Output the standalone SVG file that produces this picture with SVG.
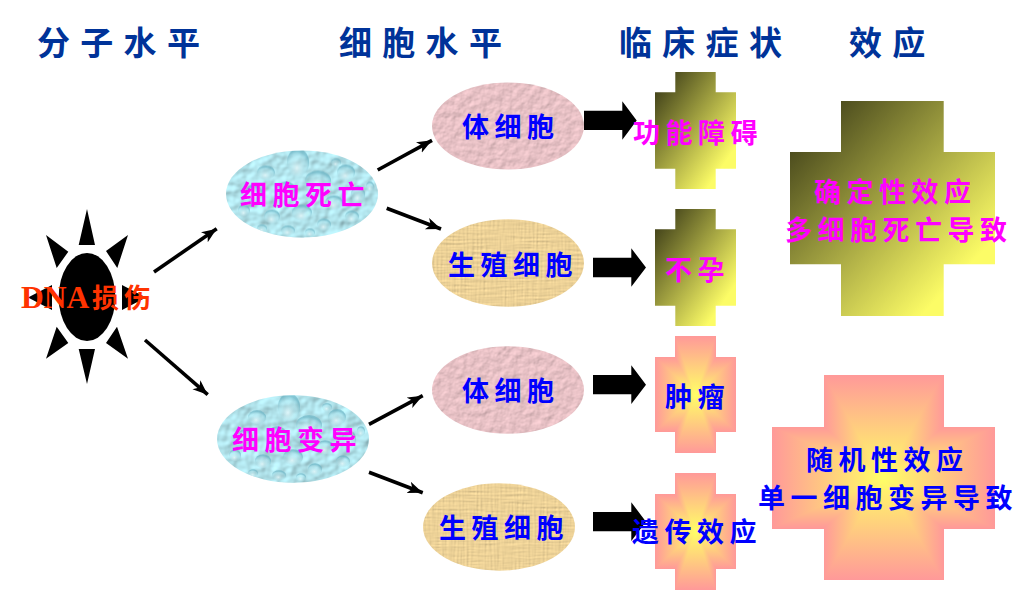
<svg xmlns="http://www.w3.org/2000/svg" xmlns:xlink="http://www.w3.org/1999/xlink" width="1033" height="590" viewBox="0 0 1033 590">
<style>
text{font-family:"Noto Sans CJK SC","Noto Sans",sans-serif;font-weight:700}
.title{font-size:33px;letter-spacing:10.3px;fill:#003399}
.lb{font-size:27px;letter-spacing:5.5px;fill:#0000ff}
.lm{font-size:27px;letter-spacing:5.5px;fill:#ff00ff}
.thin{fill:none;stroke:#000;stroke-width:3.6;marker-end:url(#head)}
.sun{fill:#000}
.block{fill:#000}
.rose polygon{shape-rendering:crispEdges}
.u{fill:url(#gu)}.d{fill:url(#gd)}.l{fill:url(#gl)}.r{fill:url(#gr)}
.drops{fill:url(#droplets)}
</style>
<defs>
<marker id="head" markerUnits="userSpaceOnUse" markerWidth="18" markerHeight="14" refX="15" refY="6" orient="auto"><path d="M0 0L15 6L0 12L4 6Z" fill="#000"/></marker>
<linearGradient id="olive" x1="0" y1="0" x2="1" y2="1"><stop offset="0.06" stop-color="#3e3e18"/><stop offset="0.82" stop-color="#fcfc66"/></linearGradient>
<linearGradient id="gu" x1="0" y1="1" x2="0" y2="0"><stop offset="0" stop-color="#ffff66"/><stop offset="1" stop-color="#ff9999"/></linearGradient>
<linearGradient id="gd" x1="0" y1="0" x2="0" y2="1"><stop offset="0" stop-color="#ffff66"/><stop offset="1" stop-color="#ff9999"/></linearGradient>
<linearGradient id="gl" x1="1" y1="0" x2="0" y2="0"><stop offset="0" stop-color="#ffff66"/><stop offset="1" stop-color="#ff9999"/></linearGradient>
<linearGradient id="gr" x1="0" y1="0" x2="1" y2="0"><stop offset="0" stop-color="#ffff66"/><stop offset="1" stop-color="#ff9999"/></linearGradient>
<radialGradient id="drop" cx="0.45" cy="0.7" r="0.6"><stop offset="0" stop-color="#e6f8fa" stop-opacity="0.85"/><stop offset="0.7" stop-color="#a4dae4" stop-opacity="0.3"/><stop offset="1" stop-color="#6fb6c6" stop-opacity="0.75"/></radialGradient>
<pattern id="droplets" patternUnits="objectBoundingBox" width="1" height="1" patternContentUnits="userSpaceOnUse">
<g fill="url(#drop)">
<ellipse cx="72" cy="12" rx="11" ry="14"/><ellipse cx="92" cy="30" rx="13" ry="10"/><ellipse cx="120" cy="22" rx="9" ry="8"/>
<ellipse cx="40" cy="22" rx="9" ry="7"/><ellipse cx="60" cy="40" rx="10" ry="9"/><ellipse cx="28" cy="42" rx="8" ry="8"/>
<ellipse cx="132" cy="44" rx="7" ry="9"/><ellipse cx="108" cy="52" rx="9" ry="7"/><ellipse cx="18" cy="60" rx="6" ry="6"/>
<ellipse cx="46" cy="66" rx="8" ry="7"/><ellipse cx="76" cy="62" rx="10" ry="8"/><ellipse cx="98" cy="74" rx="7" ry="6"/>
<ellipse cx="126" cy="66" rx="7" ry="6"/><ellipse cx="62" cy="80" rx="7" ry="5"/><ellipse cx="84" cy="82" rx="5" ry="4"/>
<ellipse cx="36" cy="78" rx="5" ry="4"/><ellipse cx="110" cy="12" rx="5" ry="4"/><ellipse cx="144" cy="36" rx="4" ry="5"/>
</g>
</pattern>
<filter id="water" x="0" y="0" width="1" height="1" color-interpolation-filters="sRGB">
<feTurbulence type="fractalNoise" baseFrequency="0.09" numOctaves="2" seed="8" result="n"/>
<feDiffuseLighting in="n" surfaceScale="1.4" diffuseConstant="1.16" lighting-color="#b0e2ea" result="lit"><feDistantLight azimuth="235" elevation="60"/></feDiffuseLighting>
<feComposite in="lit" in2="SourceAlpha" operator="in"/>
</filter>
<filter id="rosetex" x="0" y="0" width="1" height="1" color-interpolation-filters="sRGB">
<feTurbulence type="fractalNoise" baseFrequency="0.13" numOctaves="4" seed="3" result="n"/>
<feDiffuseLighting in="n" surfaceScale="0.7" diffuseConstant="1.14" lighting-color="#e6c0c4" result="lit"><feDistantLight azimuth="235" elevation="62"/></feDiffuseLighting>
<feComposite in="lit" in2="SourceAlpha" operator="in"/>
</filter>
<filter id="papyrus" x="0" y="0" width="1" height="1" color-interpolation-filters="sRGB">
<feTurbulence type="fractalNoise" baseFrequency="0.03 0.5" numOctaves="3" seed="5" result="h"/>
<feTurbulence type="fractalNoise" baseFrequency="0.5 0.03" numOctaves="3" seed="9" result="v"/>
<feBlend in="h" in2="v" mode="multiply" result="n"/>
<feDiffuseLighting in="n" surfaceScale="0.6" diffuseConstant="1.14" lighting-color="#ebd096" result="lit"><feDistantLight azimuth="235" elevation="62"/></feDiffuseLighting>
<feComposite in="lit" in2="SourceAlpha" operator="in"/>
</filter>
<g id="rose-small" class="rose">
<polygon class="u" points="0,0 -20.5,-58.5 20.5,-58.5"/><polygon class="u" points="0,0 20.5,-37.5 40.5,-37.5"/><polygon class="u" points="0,0 -40.5,-37.5 -20.5,-37.5"/>
<polygon class="r" points="0,0 20.5,-58.5 20.5,-37.5"/><polygon class="r" points="0,0 40.5,-37.5 40.5,37.5"/><polygon class="r" points="0,0 20.5,37.5 20.5,58.5"/>
<polygon class="d" points="0,0 20.5,58.5 -20.5,58.5"/><polygon class="d" points="0,0 40.5,37.5 20.5,37.5"/><polygon class="d" points="0,0 -20.5,37.5 -40.5,37.5"/>
<polygon class="l" points="0,0 -20.5,58.5 -20.5,37.5"/><polygon class="l" points="0,0 -40.5,37.5 -40.5,-37.5"/><polygon class="l" points="0,0 -20.5,-37.5 -20.5,-58.5"/>
</g>
</defs>

<g id="titles">
<text class="title" x="37" y="55">分子水平</text>
<text class="title" x="339" y="55">细胞水平</text>
<text class="title" x="619" y="55">临床症状</text>
<text class="title" x="849" y="55">效应</text>
</g>

<g id="node-dna">
<ellipse class="sun" cx="87" cy="297" rx="28.3" ry="44"/>
<path class="sun" d="M87 209L95 245H78.7ZM87 384L95 349H78.7ZM46 235L68.3 251.7L56.7 268ZM128 235L106 251L117.3 268ZM46 358.7L56.7 326.7L68.3 343ZM128 358.7L117 326.7L106 343ZM28 297.5L52 285V310ZM146 297.5L122 285V310Z"/>
<text x="21" y="308" style="font-family:'Liberation Serif',serif;font-size:31.5px;fill:#ff3300">DNA</text>
<text x="92" y="308" style="font-size:27px;letter-spacing:5px;fill:#ff3300">损伤</text>
</g>

<g id="connectors">
<path class="thin" d="M154 272L216.7 228.7"/>
<path class="thin" d="M145 340L207.7 394.7"/>
<path class="thin" d="M377.7 170L432 140.3"/>
<path class="thin" d="M386.7 208.3L441 229"/>
<path class="thin" d="M369 424.3L422.7 395.7"/>
<path class="thin" d="M369 472.3L422.7 492.7"/>
<path class="block" d="M584 110.7H622.3V101.3L636.7 120.5L622.3 139.7V130H584Z"/>
<path class="block" d="M593 257.7H631.3V248.3L646 267.5L631.3 286.7V277.3H593Z"/>
<path class="block" d="M593 375H631.3V365.3L646 384.7L631.3 404V394.3H593Z"/>
<path class="block" d="M593 512H631.3V502.3L646 521.7L631.3 541V531.3H593Z"/>
</g>

<g id="node-death">
<ellipse cx="302" cy="194" rx="76" ry="43.5" fill="#aee0e9" filter="url(#water)"/>
<ellipse class="drops" cx="302" cy="194" rx="76" ry="43.5"/>
<text class="lm" x="240" y="205">细胞死亡</text>
</g>
<g id="node-mutation">
<ellipse cx="293" cy="439" rx="76" ry="43.8" fill="#aee0e9" filter="url(#water)"/>
<ellipse class="drops" cx="293" cy="439" rx="76" ry="43.8"/>
<text class="lm" x="232" y="450">细胞变异</text>
</g>
<g id="node-somatic-1">
<ellipse cx="508" cy="126" rx="76" ry="43.5" fill="#e6c0c4" filter="url(#rosetex)"/>
<text class="lb" x="462" y="137">体细胞</text>
</g>
<g id="node-germ-1">
<ellipse cx="508" cy="263" rx="76" ry="43.8" fill="#ebd096" filter="url(#papyrus)"/>
<text class="lb" x="448" y="275">生殖细胞</text>
</g>
<g id="node-somatic-2">
<ellipse cx="508" cy="390" rx="76" ry="43.8" fill="#e6c0c4" filter="url(#rosetex)"/>
<text class="lb" x="462" y="401">体细胞</text>
</g>
<g id="node-germ-2">
<ellipse cx="499" cy="527" rx="76" ry="43.7" fill="#ebd096" filter="url(#papyrus)"/>
<text class="lb" x="439" y="538">生殖细胞</text>
</g>

<g id="node-dysfunction">
<polygon fill="url(#olive)" points="675.3,72 715.7,72 715.7,92.3 736,92.3 736,168.7 715.7,168.7 715.7,189 675.3,189 675.3,168.7 655,168.7 655,92.3 675.3,92.3"/>
<text class="lm" x="633" y="143">功能障碍</text>
</g>
<g id="node-infertility">
<polygon fill="url(#olive)" points="675.3,209 715.7,209 715.7,229.3 736,229.3 736,305.7 715.7,305.7 715.7,326 675.3,326 675.3,305.7 655,305.7 655,229.3 675.3,229.3"/>
<text class="lm" x="665" y="280">不孕</text>
</g>
<g id="node-tumor">
<use xlink:href="#rose-small" href="#rose-small" transform="translate(695.5 394.5)"/>
<text class="lb" x="665" y="407">肿瘤</text>
</g>
<g id="node-hereditary">
<use xlink:href="#rose-small" href="#rose-small" transform="translate(695.5 531.5)"/>
<text class="lb" x="632" y="542">遗传效应</text>
</g>

<g id="node-deterministic">
<polygon fill="url(#olive)" points="841,101 943.7,101 943.7,152 995,152 995,264.3 943.7,264.3 943.7,316 841,316 841,264.3 790,264.3 790,152 841,152"/>
<text class="lm" x="814" y="202">确定性效应</text>
<text class="lm" x="785" y="240">多细胞死亡导致</text>
</g>
<g id="node-stochastic">
<g class="rose" transform="translate(883.5 477.5)">
<polygon class="u" points="0,0 -60,-102.5 60,-102.5"/><polygon class="u" points="0,0 60,-51 111.5,-51"/><polygon class="u" points="0,0 -111.5,-51 -60,-51"/>
<polygon class="r" points="0,0 60,-102.5 60,-51"/><polygon class="r" points="0,0 111.5,-51 111.5,51"/><polygon class="r" points="0,0 60,51 60,102.5"/>
<polygon class="d" points="0,0 60,102.5 -60,102.5"/><polygon class="d" points="0,0 111.5,51 60,51"/><polygon class="d" points="0,0 -60,51 -111.5,51"/>
<polygon class="l" points="0,0 -60,102.5 -60,51"/><polygon class="l" points="0,0 -111.5,51 -111.5,-51"/><polygon class="l" points="0,0 -60,-51 -60,-102.5"/>
</g>
<text class="lb" x="806" y="470">随机性效应</text>
<text class="lb" x="758" y="508">单一细胞变异导致</text>
</g>
</svg>
